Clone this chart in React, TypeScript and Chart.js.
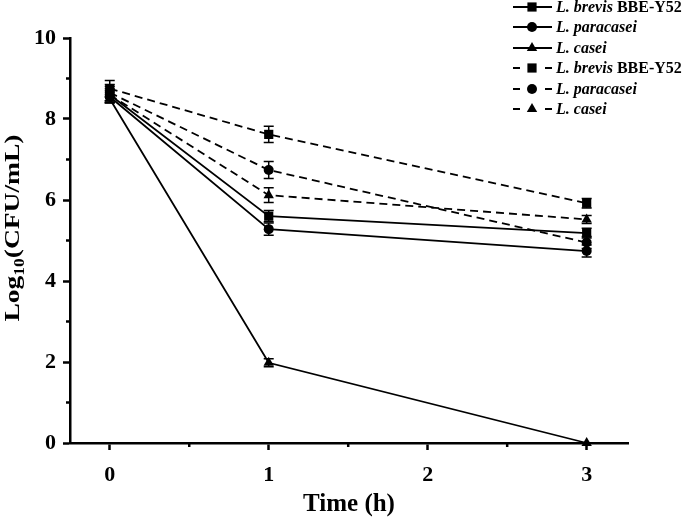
import React, { useEffect, useRef } from "react";
import { Chart, registerables } from "chart.js";

Chart.register(...registerables);

const timePoints = [0, 1, 3];
const xTicks = [0, 1, 2, 3];
const yTicks = [0, 2, 4, 6, 8, 10];
const xMinorTicks = [0.5, 1.5, 2.5];
const yMinorTicks = [1, 3, 5, 7, 9];

const italicNames = ["L. brevis", "L. paracasei", "L. casei", "L. brevis", "L. paracasei", "L. casei"];
const romanNames = [" BBE-Y52", "", "", " BBE-Y52", "", ""];

const solidBrevis = [8.6, 5.6, 5.18];
const solidBrevisErr = [0.15, 0.14, 0.12];
const solidParacasei = [8.55, 5.28, 4.74];
const solidParacaseiErr = [0.15, 0.15, 0.15];
const solidCasei = [8.5, 1.98, 0];
const solidCaseiErr = [0.1, 0.1, 0];
const dashedBrevis = [8.75, 7.62, 5.92];
const dashedBrevisErr = [0.2, 0.2, 0.12];
const dashedParacasei = [8.65, 6.74, 4.95];
const dashedParacaseiErr = [0.2, 0.21, 0.15];
const dashedCasei = [8.6, 6.12, 5.52];
const dashedCaseiErr = [0.2, 0.18, 0.1];

const seriesValues = [solidBrevis, solidParacasei, solidCasei, dashedBrevis, dashedParacasei, dashedCasei];
const seriesErrors = [solidBrevisErr, solidParacaseiErr, solidCaseiErr, dashedBrevisErr, dashedParacaseiErr, dashedCaseiErr];
const pointStyles = ["rect", "circle", "triangle", "rect", "circle", "triangle"];
const pointRadii = [6.5, 5, 6, 6.5, 5, 6];
const dashed = [false, false, false, true, true, true];

const FONT = "'Liberation Serif', 'Times New Roman', serif";

function drawMarker(ctx: CanvasRenderingContext2D, style: string, r: number, x: number, y: number) {
  ctx.beginPath();
  if (style === "rect") {
    const s = Math.SQRT1_2 * r;
    ctx.rect(x - s, y - s, 2 * s, 2 * s);
  } else if (style === "circle") {
    ctx.arc(x, y, r, 0, Math.PI * 2);
  } else {
    ctx.moveTo(x, y - r);
    ctx.lineTo(x + r * 0.866, y + r * 0.5);
    ctx.lineTo(x - r * 0.866, y + r * 0.5);
    ctx.closePath();
  }
  ctx.fill();
}

const decorPlugin = {
  id: "decor",
  afterDatasetsDraw(chart: any) {
    const ctx = chart.ctx;
    const xs = chart.scales.x;
    const ys = chart.scales.y;
    ctx.save();
    ctx.strokeStyle = "#000";
    ctx.lineWidth = 1.5;
    seriesValues.forEach((vals, i) => {
      vals.forEach((v, j) => {
        const e = seriesErrors[i][j];
        if (!e) return;
        const px = xs.getPixelForValue(timePoints[j]);
        const top = ys.getPixelForValue(v + e);
        const bot = ys.getPixelForValue(v - e);
        ctx.beginPath();
        ctx.moveTo(px, top);
        ctx.lineTo(px, bot);
        ctx.moveTo(px - 5, top);
        ctx.lineTo(px + 5, top);
        ctx.moveTo(px - 5, bot);
        ctx.lineTo(px + 5, bot);
        ctx.stroke();
      });
    });
    ctx.restore();
  },
  afterDraw(chart: any) {
    const ctx = chart.ctx;
    const xs = chart.scales.x;
    const ys = chart.scales.y;
    const area = chart.chartArea;
    ctx.save();
    ctx.strokeStyle = "#000";
    ctx.lineWidth = 2.5;
    yMinorTicks.forEach((v) => {
      const py = ys.getPixelForValue(v);
      ctx.beginPath();
      ctx.moveTo(area.left, py);
      ctx.lineTo(area.left - 4, py);
      ctx.stroke();
    });
    xMinorTicks.forEach((v) => {
      const px = xs.getPixelForValue(v);
      ctx.beginPath();
      ctx.moveTo(px, area.bottom);
      ctx.lineTo(px, area.bottom + 4);
      ctx.stroke();
    });

    ctx.fillStyle = "#000";
    ctx.font = `bold 25px ${FONT}`;
    ctx.textAlign = "center";
    ctx.textBaseline = "middle";
    ctx.fillText("Time (h)", (area.left + area.right) / 2, 505);

    ctx.save();
    ctx.translate(13, 228);
    ctx.rotate(-Math.PI / 2);
    ctx.scale(1.25, 1);
    const bigFont = `bold 22px ${FONT}`;
    const smallFont = `bold 14px ${FONT}`;
    ctx.font = bigFont;
    const w1 = ctx.measureText("Log").width;
    const w3 = ctx.measureText("(CFU/mL)").width;
    ctx.font = smallFont;
    const w2 = ctx.measureText("10").width;
    const total = w1 + w2 + w3;
    let cx = -total / 2;
    ctx.textAlign = "left";
    ctx.textBaseline = "middle";
    ctx.font = bigFont;
    ctx.fillText("Log", cx, 0);
    cx += w1;
    ctx.font = smallFont;
    ctx.fillText("10", cx, 7);
    cx += w2;
    ctx.font = bigFont;
    ctx.fillText("(CFU/mL)", cx, 0);
    ctx.restore();

    const rowY = [7, 27, 48, 68, 89, 109];
    const x0 = 513;
    const x1 = 552;
    const mx = 532;
    chart.data.datasets.forEach((ds: any, i: number) => {
      const y = rowY[i];
      ctx.strokeStyle = "#000";
      ctx.lineWidth = 1.8;
      ctx.setLineDash([]);
      ctx.beginPath();
      if (dashed[i]) {
        ctx.moveTo(x0, y);
        ctx.lineTo(x0 + 7, y);
        ctx.moveTo(x1 - 7, y);
        ctx.lineTo(x1, y);
      } else {
        ctx.moveTo(x0, y);
        ctx.lineTo(x1, y);
      }
      ctx.stroke();
      ctx.fillStyle = "#000";
      drawMarker(ctx, ds.pointStyle, ds.pointRadius, mx, y);
      ctx.textAlign = "left";
      ctx.textBaseline = "middle";
      ctx.font = `italic bold 16px ${FONT}`;
      ctx.fillText(italicNames[i], 556, y + 1);
      const wi = ctx.measureText(italicNames[i]).width;
      if (romanNames[i]) {
        ctx.font = `bold 16px ${FONT}`;
        ctx.fillText(romanNames[i], 556 + wi, y + 1);
      }
    });
    ctx.restore();
  },
};

export default function App() {
  const ref = useRef<HTMLCanvasElement | null>(null);
  useEffect(() => {
    document.body.style.margin = "0";
    if (!ref.current) return;
    const datasets = seriesValues.map((vals, i) => ({
      label: italicNames[i] + romanNames[i],
      data: vals.map((v, j) => ({ x: timePoints[j], y: v })),
      borderColor: "#000",
      backgroundColor: "#000",
      borderWidth: 1.8,
      borderDash: dashed[i] ? [8, 5] : [],
      pointStyle: pointStyles[i],
      pointRadius: pointRadii[i],
      pointBorderWidth: 0,
      pointBackgroundColor: "#000",
      tension: 0,
      clip: false as any,
    }));
    const chart = new Chart(ref.current, {
      type: "line",
      data: { datasets },
      options: {
        animation: false,
        responsive: false,
        layout: { padding: { top: 38, right: 57, left: 0, bottom: 0 } },
        plugins: { legend: { display: false }, tooltip: { enabled: false } },
        scales: {
          x: {
            type: "linear",
            min: -0.25,
            max: 3.26,
            afterBuildTicks: (scale: any) => {
              scale.ticks = xTicks.map((v) => ({ value: v }));
            },
            afterFit: (scale: any) => {
              scale.height = 80;
            },
            border: { display: true, color: "#000", width: 2.5 },
            grid: { display: true, drawOnChartArea: false, drawTicks: true, tickLength: 7, tickWidth: 2.5, tickColor: "#000" },
            ticks: { color: "#000", font: { family: FONT, size: 22, weight: "bold" }, padding: 12, maxRotation: 0 },
            title: { display: false },
          },
          y: {
            type: "linear",
            min: 0,
            max: 10,
            afterBuildTicks: (scale: any) => {
              scale.ticks = yTicks.map((v) => ({ value: v }));
            },
            afterFit: (scale: any) => {
              scale.width = 70;
            },
            border: { display: true, color: "#000", width: 2.5 },
            grid: { display: true, drawOnChartArea: false, drawTicks: true, tickLength: 7, tickWidth: 2.5, tickColor: "#000" },
            ticks: { color: "#000", font: { family: FONT, size: 22, weight: "bold" }, padding: 7 },
            title: { display: false },
          },
        },
      },
      plugins: [decorPlugin],
    } as any);
    return () => chart.destroy();
  }, []);
  return (
    <div style={{ position: "absolute", left: 0, top: 0, width: 685, height: 523 }}>
      <canvas ref={ref} width={685} height={523} style={{ width: 685, height: 523, display: "block" }} />
    </div>
  );
}
